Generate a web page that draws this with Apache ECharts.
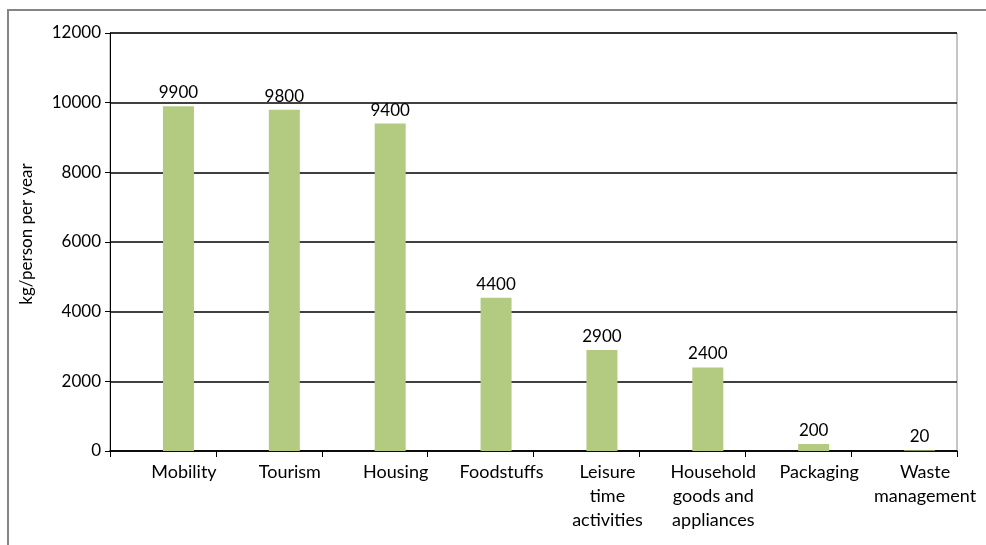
<!DOCTYPE html>
<html>
<head>
<meta charset="utf-8">
<script src="https://cdn.jsdelivr.net/npm/echarts@6/dist/echarts.min.js"></script>
<style>
  html, body { margin: 0; padding: 0; background: #fff; }
  #chart { width: 986px; height: 545px; }
</style>
</head>
<body>
<div id="chart"></div>
<script>
// Emissions per category, kg per person per year
const categories = [
  'Mobility', 'Tourism', 'Housing', 'Foodstuffs',
  'Leisure\ntime\nactivities', 'Household\ngoods and\nappliances',
  'Packaging', 'Waste\nmanagement'
];
const emissions = [9900, 9800, 9400, 4400, 2900, 2400, 200, 20];
// empty companion series keeps the bars in the right half of each slot
const placeholder = [null, null, null, null, null, null, null, null];
const yTicks = { min: 0, max: 12000, interval: 2000 };

const FONT = 'Lato, "Open Sans", sans-serif';

const chart = echarts.init(document.getElementById('chart'), null, { renderer: 'canvas' });
chart.setOption({
  animation: false,
  backgroundColor: '#ffffff',
  textStyle: { fontFamily: FONT, color: '#000' },
  graphic: [{
    type: 'rect',
    shape: { x: 8, y: 10, width: 1100, height: 700 },
    style: { fill: 'none', stroke: '#858585', lineWidth: 2 },
    silent: true
  }],
  grid: {
    left: 110, right: 29, top: 33, bottom: 94,
    show: true, borderColor: '#8c8c8c', borderWidth: 1
  },
  xAxis: {
    type: 'category',
    data: categories,
    axisLine: { lineStyle: { color: '#000', width: 1.5 } },
    axisTick: { show: true, length: 6, alignWithLabel: false, lineStyle: { color: '#000' } },
    axisLabel: {
      interval: 0,
      margin: 9,
      fontSize: 18,
      lineHeight: 24,
      color: '#000',
      fontFamily: FONT,
      padding: [0, 0, 0, 42]
    }
  },
  yAxis: {
    type: 'value',
    min: yTicks.min, max: yTicks.max, interval: yTicks.interval,
    name: 'kg/person per year',
    nameLocation: 'middle',
    nameGap: 75,
    nameRotate: 90,
    nameTextStyle: { fontSize: 17, color: '#000', fontFamily: FONT, padding: [0, 0, 0, 16] },
    axisLine: { show: true, lineStyle: { color: '#000', width: 1 } },
    axisTick: { show: true, length: 5, lineStyle: { color: '#000' } },
    axisLabel: {
      fontSize: 17, color: '#000', margin: 9, fontFamily: FONT,
      formatter: (v) => String(v)
    },
    splitLine: { lineStyle: { color: '#000', width: 1.5 } }
  },
  series: [
    {
      type: 'bar',
      data: placeholder,
      barWidth: 31,
      barGap: '0%'
    },
    {
      type: 'bar',
      data: emissions,
      barWidth: 31,
      barGap: '0%',
      itemStyle: { color: '#b2cb81' },
      label: {
        show: true,
        position: 'top',
        distance: 5,
        fontSize: 17,
        color: '#000',
        fontFamily: FONT
      }
    }
  ]
});
</script>
</body>
</html>
